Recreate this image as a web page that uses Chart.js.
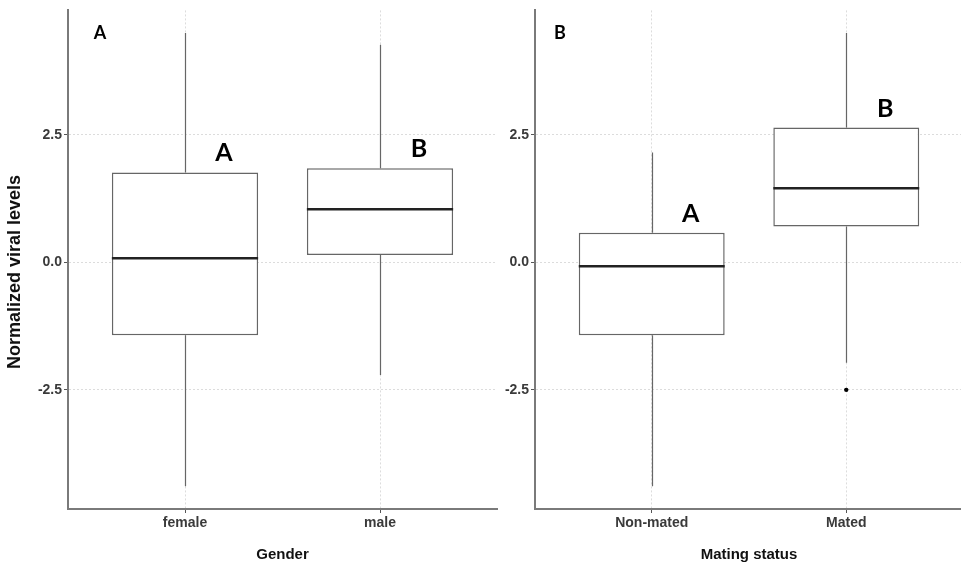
<!DOCTYPE html>
<html>
<head>
<meta charset="utf-8">
<script src="https://cdn.jsdelivr.net/npm/chart.js@4"></script>
<style>
  html, body { margin: 0; padding: 0; background: #ffffff; overflow: hidden; width: 961px; height: 567px; }
  canvas { position: absolute; left: 0; top: 0; }
</style>
</head>
<body>
<canvas id="genderChart" width="961" height="567" style="width:961px;height:567px"></canvas>
<canvas id="matingChart" width="967" height="567" style="width:967px;height:567px"></canvas>
<script>
// Panel A: viral levels by gender (box-plot summaries)
const genderCategories = ['female', 'male'];
const genderMin    = [-4.39, -2.21];
const genderQ1     = [-1.43,  0.14];
const genderMedian = [ 0.08,  1.04];
const genderQ3     = [ 1.76,  1.84];
const genderMax    = [ 4.49,  4.26];
const genderOutliers = [[], []];
const genderLetters  = ['A', 'B'];

// Panel B: viral levels by mating status
const matingCategories = ['Non-mated', 'Mated'];
const matingMin    = [-4.39, -1.97];
const matingQ1     = [-1.43,  0.70];
const matingMedian = [-0.08,  1.45];
const matingQ3     = [ 0.58,  2.64];
const matingMax    = [ 2.15,  4.49];
const matingOutliers = [[], [-2.50]];
const matingLetters  = ['A', 'B'];

const yTickValues = [-2.5, 0.0, 2.5];
const yAxisTitle = 'Normalized viral levels';

// shared value range, padded by 5% on each side
const allValues = [].concat(genderMin, genderMax, matingMin, matingMax,
  ...genderOutliers, ...matingOutliers);
const dataLo = Math.min(...allValues);
const dataHi = Math.max(...allValues);
const pad = (dataHi - dataLo) * 0.05;
const yMin = dataLo - pad;
const yMax = dataHi + pad;

const SANS = '"Liberation Sans", Arial, sans-serif';
const tickFont = { family: SANS, size: 14, weight: 'bold' };
const titleFont = { family: SANS, size: 15, weight: 'bold' };

// Whiskers, medians, group letters and panel tag
const boxParts = {
  id: 'boxParts',
  beforeDatasetsDraw(chart, args, o) {
    const { ctx, scales: { x, y } } = chart;
    ctx.save();
    ctx.strokeStyle = '#666666';
    ctx.lineWidth = 1.2;
    o.min.forEach((lo, i) => {
      const px = Math.round(x.getPixelForValue(i + 1)) + 0.5;
      ctx.beginPath();
      ctx.moveTo(px, y.getPixelForValue(o.max[i]));
      ctx.lineTo(px, y.getPixelForValue(o.q3[i]));
      ctx.moveTo(px, y.getPixelForValue(o.q1[i]));
      ctx.lineTo(px, y.getPixelForValue(lo));
      ctx.stroke();
    });
    ctx.restore();
  },
  afterDatasetsDraw(chart, args, o) {
    const { ctx, scales: { y } } = chart;
    const meta = chart.getDatasetMeta(0);
    ctx.save();
    ctx.strokeStyle = '#222222';
    ctx.lineWidth = 2.5;
    meta.data.forEach((bar, i) => {
      const { x: cx, width } = bar.getProps(['x', 'width'], true);
      const py = y.getPixelForValue(o.median[i]);
      ctx.beginPath();
      ctx.moveTo(cx - width / 2, py);
      ctx.lineTo(cx + width / 2, py);
      ctx.stroke();
    });
    ctx.restore();
  },
  afterDraw(chart, args, o) {
    const { ctx, chartArea, scales: { x, y } } = chart;
    ctx.save();
    ctx.fillStyle = '#000000';
    ctx.textAlign = 'center';
    ctx.textBaseline = 'middle';
    // group letters above each box
    ctx.font = 'bold 25px Lato, "Open Sans", sans-serif';
    o.letters.forEach((t, i) => {
      ctx.fillText(t, x.getPixelForValue(i + 1.2), y.getPixelForValue(o.q3[i]) - 19);
    });
    // panel tag
    ctx.font = 'bold 18px Lato, "Open Sans", sans-serif';
    ctx.fillText(o.tag, chartArea.left + o.tagDx, chartArea.top + 23);
    // vertical axis title
    if (o.yTitle) {
      ctx.font = 'bold 18px ' + SANS;
      ctx.fillStyle = '#111111';
      ctx.translate(15, 272);
      ctx.rotate(-Math.PI / 2);
      ctx.fillText(o.yTitle, 0, 0);
    }
    ctx.restore();
  }
};

function buildPanel(canvasId, cats, stats, outliers, xTitle, layoutOpts) {
  const datasets = [{
    type: 'bar',
    data: cats.map((c, i) => ({ x: i + 1, y: [stats.q1[i], stats.q3[i]] })),
    backgroundColor: '#ffffff',
    borderColor: '#666666',
    borderWidth: 1.5,
    borderSkipped: false,
    barPercentage: 0.75,
    categoryPercentage: 1
  }];
  const outlierPoints = [];
  outliers.forEach((arr, i) => arr.forEach(v => outlierPoints.push({ x: i + 1, y: v })));
  if (outlierPoints.length) {
    datasets.push({
      type: 'scatter',
      data: outlierPoints,
      pointRadius: 2.2,
      pointBackgroundColor: '#000000',
      pointBorderWidth: 0
    });
  }

  const gridOpts = { color: '#dcdcdc', lineWidth: 1, tickColor: '#555555', tickLength: 4, tickWidth: 1, offset: false };
  const borderOpts = { display: true, color: '#7a7a7a', width: 2, dash: [2, 2] };

  return new Chart(document.getElementById(canvasId), {
    type: 'bar',
    data: { datasets },
    options: {
      responsive: false,
      animation: false,
      layout: { padding: { left: layoutOpts.padLeft, right: layoutOpts.padRight, top: 8, bottom: 0 } },
      plugins: {
        legend: { display: false },
        tooltip: { enabled: false },
        boxParts: Object.assign({}, stats, layoutOpts.extra)
      },
      scales: {
        x: {
          type: 'linear',
          min: 0.4,
          max: 2.6,
          offset: false,
          afterBuildTicks: s => { s.ticks = cats.map((c, i) => ({ value: i + 1 })); },
          afterFit: s => { s.height = 58; },
          grid: gridOpts,
          border: borderOpts,
          ticks: {
            callback: v => cats[Math.round(v) - 1] || '',
            color: '#3a3a3a',
            font: tickFont,
            padding: 2,
            maxRotation: 0,
            autoSkip: false
          },
          title: { display: true, text: xTitle, color: '#111111', font: titleFont, padding: { top: 0, bottom: 3 } }
        },
        y: {
          type: 'linear',
          min: yMin,
          max: yMax,
          afterBuildTicks: s => { s.ticks = yTickValues.map(v => ({ value: v })); },
          afterFit: s => { s.width = layoutOpts.yWidth; },
          grid: gridOpts,
          border: borderOpts,
          ticks: {
            callback: v => Number(v).toFixed(1),
            color: '#3a3a3a',
            font: tickFont,
            padding: 2
          }
        }
      }
    },
    plugins: [boxParts]
  });
}

buildPanel('genderChart', genderCategories,
  { min: genderMin, q1: genderQ1, median: genderMedian, q3: genderQ3, max: genderMax, letters: genderLetters },
  genderOutliers, 'Gender',
  { padLeft: 0, padRight: 464, yWidth: 68, extra: { tag: 'A', tagDx: 32, yTitle: yAxisTitle } });

buildPanel('matingChart', matingCategories,
  { min: matingMin, q1: matingQ1, median: matingMedian, q3: matingQ3, max: matingMax, letters: matingLetters },
  matingOutliers, 'Mating status',
  { padLeft: 495, padRight: 1, yWidth: 40, extra: { tag: 'B', tagDx: 25, yTitle: null } });
</script>
</body>
</html>
